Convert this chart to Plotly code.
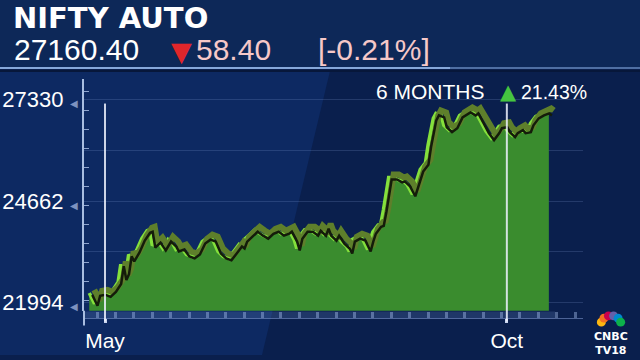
import math
import pandas as pd
import plotly.graph_objects as go

# ---------------- data ----------------
DATES = [
    "2024-04-25", "2024-04-27", "2024-04-28", "2024-04-30", "2024-05-02", "2024-05-04", "2024-05-06", "2024-05-07", "2024-05-08", "2024-05-09",
    "2024-05-10", "2024-05-11", "2024-05-13", "2024-05-15", "2024-05-17", "2024-05-18", "2024-05-19", "2024-05-21", "2024-05-23", "2024-05-25",
    "2024-05-27", "2024-05-28", "2024-05-30", "2024-06-01", "2024-06-03", "2024-06-05", "2024-06-07", "2024-06-09", "2024-06-11", "2024-06-13",
    "2024-06-15", "2024-06-17", "2024-06-19", "2024-06-21", "2024-06-22", "2024-06-23", "2024-06-25", "2024-06-27", "2024-06-29", "2024-07-01",
    "2024-07-03", "2024-07-05", "2024-07-07", "2024-07-09", "2024-07-10", "2024-07-12", "2024-07-13", "2024-07-14", "2024-07-16", "2024-07-18",
    "2024-07-20", "2024-07-21", "2024-07-23", "2024-07-24", "2024-07-25", "2024-07-27", "2024-07-28", "2024-07-30", "2024-08-01", "2024-08-02",
    "2024-08-03", "2024-08-05", "2024-08-07", "2024-08-09", "2024-08-10", "2024-08-11", "2024-08-13", "2024-08-14", "2024-08-15", "2024-08-16",
    "2024-08-17", "2024-08-19", "2024-08-21", "2024-08-22", "2024-08-24", "2024-08-26", "2024-08-28", "2024-08-29", "2024-08-31", "2024-09-01",
    "2024-09-03", "2024-09-04", "2024-09-06", "2024-09-07", "2024-09-09", "2024-09-11", "2024-09-13", "2024-09-16", "2024-09-18", "2024-09-19",
    "2024-09-21", "2024-09-23", "2024-09-25", "2024-09-27", "2024-09-28", "2024-09-30", "2024-10-01", "2024-10-03", "2024-10-04", "2024-10-06",
    "2024-10-07", "2024-10-09", "2024-10-10", "2024-10-12", "2024-10-14", "2024-10-16", "2024-10-17",
]
VALUES = [
    22253, 21968, 22227, 22253, 22201, 22331, 22538, 23004, 22642, 22797,
    23263, 23134, 23367, 23678, 23885, 23911, 23496, 23626, 23419, 23652,
    23522, 23393, 23444, 23263, 23211, 23315, 23600, 23703, 23652, 23341,
    23211, 23160, 23341, 23522, 23470, 23652, 23781, 23911, 23807, 23729,
    23859, 23911, 23807, 23859, 23911, 23652, 23419, 23729, 23911, 23911,
    23807, 23937, 23807, 23988, 23807, 23678, 23807, 23600, 23470, 23341,
    23652, 23729, 23678, 23393, 23652, 23859, 24040, 24066, 24429, 24895,
    25283, 25283, 25206, 25232, 25102, 24843, 25283, 25491, 25672, 26138,
    26837, 26967, 26915, 26656, 26527, 26630, 26915, 27045, 26967, 27019,
    26760, 26501, 26319, 26501, 26630, 26656, 26527, 26397, 26501, 26578,
    26501, 26527, 26708, 26889, 26967, 27019, 26967,
]
Y_TICKS = [21994, 23328, 24662, 25996, 27330]
Y_LABELS = ["21994", "", "24662", "", "27330"]
X_TICKS = ["2024-05-01", "2024-10-01"]
X_LABELS = ["May", "Oct"]

TITLE = "NIFTY AUTO"
LAST = "27160.40"
CHANGE = "58.40"
CHANGE_PCT = "[-0.21%]"
PERIOD = "6 MONTHS"
PERIOD_PCT = "21.43%"

# ---------------- layout helpers ----------------
W, H = 640, 360
def px(x):
    return x / W
def py(y):
    return 1 - y / H

X_DOMAIN = [px(84), px(583)]
Y_DOMAIN = [py(315), py(80)]
X_RANGE = [pd.Timestamp("2024-04-23"), pd.Timestamp("2024-10-30")]
Y_RANGE = [21787, 27874]

days_per_px = (X_RANGE[1] - X_RANGE[0]) / ((X_DOMAIN[1] - X_DOMAIN[0]) * W)
val_per_px = (Y_RANGE[1] - Y_RANGE[0]) / ((Y_DOMAIN[1] - Y_DOMAIN[0]) * H)

def shifted_x(dx):
    return [X_RANGE[0] - days_per_px * dx, X_RANGE[1] - days_per_px * dx]
def shifted_y(dy):
    return [Y_RANGE[0] - val_per_px * dy, Y_RANGE[1] - val_per_px * dy]

fig = go.Figure()

# area fill
fig.add_trace(go.Scatter(x=DATES, y=VALUES, mode="lines", line=dict(width=0, color="#3a8d2f"),
                         fill="tozeroy", fillcolor="#3a8c2e", hoverinfo="skip", xaxis="x", yaxis="y"))
# extrusion (back face)
fig.add_trace(go.Scatter(x=DATES, y=VALUES, mode="lines", line=dict(width=6, color="#5e7f2b"),
                         hoverinfo="skip", xaxis="x2", yaxis="y2"))
# dark shadow
fig.add_trace(go.Scatter(x=DATES, y=VALUES, mode="lines", line=dict(width=2.5, color="#141c0a"),
                         hoverinfo="skip", xaxis="x3", yaxis="y3"))
# front bright line
fig.add_trace(go.Scatter(x=DATES, y=VALUES, mode="lines", line=dict(width=3.5, color="#84e03c"),
                         hoverinfo="skip", xaxis="x", yaxis="y"))

arrow = " <span style='font-size:10px;color:#7d92bf'>◀</span>"
ytext = [t + arrow if t else "" for t in Y_LABELS]

shapes = [
    # header band
    dict(type="rect", xref="paper", yref="paper", x0=0, x1=1, y0=py(69), y1=1,
         fillcolor="#0d2858", line_width=0, layer="below"),
    # lighter diagonal region on the left
    dict(type="path", xref="paper", yref="paper",
         path=f"M 0 {py(72)} L {px(330)} {py(72)} L {px(262)} 0 L 0 0 Z",
         fillcolor="#0d2962", line_width=0, layer="below"),
    # header separator
    dict(type="line", xref="paper", yref="paper", x0=0, x1=px(450), y0=py(69), y1=py(69),
         line=dict(color="#86a8da", width=2), layer="below"),
    dict(type="line", xref="paper", yref="paper", x0=px(450), x1=1, y0=py(69), y1=py(69),
         line=dict(color="#4f6fa3", width=2), layer="below"),
    dict(type="line", xref="paper", yref="paper", x0=0, x1=1, y0=py(72), y1=py(72),
         line=dict(color="#07173a", width=2), layer="below"),
    # tick strip along bottom
    dict(type="rect", xref="paper", yref="paper", x0=px(84), x1=px(555), y0=py(323), y1=py(316),
         fillcolor="rgba(110,140,200,0.22)", line_width=0, layer="below"),
    # axis extension below plot
    dict(type="line", xref="paper", yref="paper", x0=px(84), x1=px(84), y0=py(330), y1=py(315),
         line=dict(color="#a8bde0", width=2), layer="above"),
]
for t in X_TICKS:
    shapes.append(dict(type="line", xref="x", yref="paper", x0=t, x1=t, y0=py(326), y1=py(105),
                       line=dict(color="rgba(238,242,255,0.85)", width=2), layer="above"))

# CNBC peacock
feather_cols = ["#fcb711", "#f37021", "#cc004c", "#6460aa", "#0089d0", "#0db14b"]
cx, cy, rr = 611, 329, 10
for i, c in enumerate(feather_cols):
    ang = math.radians(165 - i * 30)
    fx, fy = cx + rr * math.cos(ang), cy - rr * math.sin(ang) * 0.9
    shapes.append(dict(type="circle", xref="paper", yref="paper",
                       x0=px(fx - 4.5), x1=px(fx + 4.5), y0=py(fy + 4.5), y1=py(fy - 4.5),
                       fillcolor=c, line_width=0, layer="above"))

num_font = "Liberation Sans, Arial, sans-serif"
def ann(text, x, y, size, color, family=num_font, xanchor="left", bold=False):
    return dict(text=text, x=px(x), y=py(y), xref="paper", yref="paper",
                xanchor=xanchor, yanchor="middle", showarrow=False,
                font=dict(family=family, size=size, color=color, weight="bold" if bold else "normal"))

annotations = [
    ann(TITLE, 11, 18, 29, "white", family="DejaVu Sans, sans-serif", bold=True),
    ann(LAST, 12, 50, 30, "white"),
    ann("▼", 169, 52, 27, "#e0262b", family="DejaVu Sans, sans-serif"),
    ann(CHANGE, 194, 50, 30, "#f6c8c8"),
    ann(CHANGE_PCT, 316, 50, 30, "#f6c8c8"),
    ann(PERIOD, 374, 93, 21, "white"),
    ann("▲", 498, 93, 21, "#45c540", family="DejaVu Sans, sans-serif"),
    ann(PERIOD_PCT, 519, 93, 19.5, "white"),
    ann("CNBC<br>TV18", 611, 348, 11, "white", family="DejaVu Sans, sans-serif", xanchor="center", bold=True),
]

fig.update_layout(
    width=W, height=H, autosize=False,
    margin=dict(l=0, r=0, t=0, b=0, pad=0),
    paper_bgcolor="#0a1f4d", plot_bgcolor="rgba(0,0,0,0)",
    showlegend=False,
    shapes=shapes, annotations=annotations,
    xaxis=dict(type="date", domain=X_DOMAIN, range=X_RANGE, anchor="free", position=py(322),
               showline=True, linecolor="rgba(120,145,200,0.6)", linewidth=1,
               tickmode="array", tickvals=X_TICKS, ticktext=X_LABELS,
               ticks="outside", ticklen=4, tickwidth=3, tickcolor="#c8d4ee",
               tickfont=dict(family=num_font, size=21, color="white"),
               showgrid=False, zeroline=False,
               minor=dict(ticks="inside", ticklen=6, tickcolor="rgba(160,185,230,0.45)",
                          dtick=7 * 86400000, tick0="2024-04-28", showgrid=False)),
    yaxis=dict(domain=Y_DOMAIN, range=Y_RANGE, anchor="x",
               showline=True, linecolor="#a8bde0", linewidth=2,
               tickmode="array", tickvals=Y_TICKS, ticktext=ytext, ticks="",
               tickfont=dict(family=num_font, size=22, color="white"),
               showgrid=True, gridcolor="rgba(140,170,225,0.2)", gridwidth=1, zeroline=False,
               minor=dict(ticks="inside", ticklen=5, tickcolor="#8fa5cf", tickmode="linear",
                          tick0=50, dtick=500, showgrid=False)),
    xaxis2=dict(type="date", overlaying="x", range=shifted_x(5), visible=False),
    yaxis2=dict(overlaying="y", range=shifted_y(3), visible=False),
    xaxis3=dict(type="date", overlaying="x", range=shifted_x(3), visible=False),
    yaxis3=dict(overlaying="y", range=shifted_y(-2), visible=False),
)

fig.write_html("out.html", config={"displayModeBar": False})
